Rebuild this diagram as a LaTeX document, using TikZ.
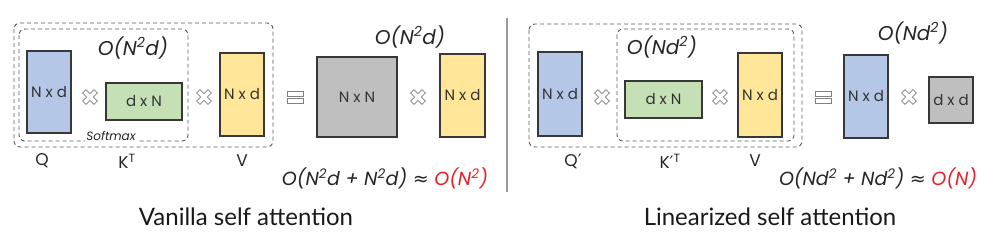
\documentclass[tikz,border=0pt]{standalone}
\usepackage{fontspec}
\setmainfont{Poppins}
\newfontfamily\titlef{Lato}
\newfontfamily\symf{DejaVu Sans}
\definecolor{qblue}{HTML}{B4C7E7}
\definecolor{kgreen}{HTML}{C5E0B4}
\definecolor{vyellow}{HTML}{FFE699}
\definecolor{mgray}{HTML}{BFBFBF}
\definecolor{ored}{HTML}{E8202A}
\newcommand{\prm}{{\symf ′}}
\tikzset{
  matbox/.style={draw=black!78, line width=1.1pt, inner sep=0pt, text=black!80,
    font=\fontsize{15}{17}\selectfont},
  dbox/.style={draw=black!65, line width=0.9pt, dash pattern=on 4pt off 3pt, rounded corners=6pt},
  cplx/.style={font=\fontsize{20}{22}\selectfont\itshape, text=black!85, inner sep=0pt},
  vlabel/.style={font=\fontsize{17}{19}\selectfont, text=black!85, inner sep=0pt},
  form/.style={font=\fontsize{19}{21}\selectfont\itshape, text=black!85, inner sep=0pt},
  ttl/.style={font=\titlef\fontsize{24}{26}\selectfont, text=black!90, inner sep=0pt},
  xop/.pic={\draw[black!50, fill=white, line width=0.7pt, rotate=45]
      (-8,-2.4) -- (-2.4,-2.4) -- (-2.4,-8) -- (2.4,-8) -- (2.4,-2.4) -- (8,-2.4)
      -- (8,2.4) -- (2.4,2.4) -- (2.4,8) -- (-2.4,8) -- (-2.4,2.4) -- (-8,2.4) -- cycle;},
  eqop/.pic={\draw[black!50, fill=white, line width=0.7pt]
      (-8,-6) rectangle (8,-1) (-8,1) rectangle (8,6);}
}
\begin{document}
\begin{tikzpicture}[x=1pt,y=-1pt]
\useasboundingbox (0,0) rectangle (998,242);
% separator
\draw[black!40, line width=1.3pt] (507,18) -- (507,192);
% ---- vanilla ----
\draw[dbox] (14,23) rectangle (273,147);
\draw[dbox] (19,29) rectangle (188,141);
\node[matbox, fill=qblue, minimum width=44pt, minimum height=82pt] (q1) at (49,92) {N x d};
\node[matbox, fill=kgreen, minimum width=76pt, minimum height=37pt] (k1) at (144,101.5) {d x N};
\node[matbox, fill=vyellow, minimum width=44pt, minimum height=83pt] (v1) at (242,94.5) {N x d};
\node[matbox, fill=mgray, minimum width=80pt, minimum height=80pt] (nn) at (357,97) {N x N};
\node[matbox, fill=vyellow, minimum width=45pt, minimum height=83pt] (v2) at (462.5,95.5) {N x d};
\pic at (90,97) {xop};
\pic at (204,97) {xop};
\pic at (295,97) {eqop};
\pic at (418,97) {xop};
\node[cplx] (c1) at (133,48) {O(N\textsuperscript{2}d)};
\node[font=\fontsize{12}{14}\selectfont\itshape, text=black!85, fill=white, inner sep=1pt] (sm) at (111,136) {Softmax};
\node[vlabel] (lq1) at (42,161) {Q};
\node[vlabel] (lk1) at (127,161) {K\textsuperscript{T}};
\node[vlabel] (lv1) at (242,161) {V};
\node[cplx] (c2) at (410,37) {O(N\textsuperscript{2}d)};
\node[form] (f1) at (385,178) {O(N\textsuperscript{2}d + N\textsuperscript{2}d) {\upshape\symf ≈} \textcolor{ored}{O(N\textsuperscript{2})}};
\node[ttl] (t1) at (246,217) {Vanilla self attention};
% ---- linearized ----
\draw[dbox] (529,24) rectangle (802,147);
\draw[dbox] (617,29) rectangle (794,141);
\node[matbox, fill=qblue, minimum width=44pt, minimum height=84pt] (q2) at (560,94) {N x d};
\node[matbox, fill=kgreen, minimum width=77pt, minimum height=37pt] (k2) at (663.5,99.5) {d x N};
\node[matbox, fill=vyellow, minimum width=44pt, minimum height=84pt] (v3) at (760,95) {N x d};
\node[matbox, fill=qblue, minimum width=44pt, minimum height=83pt] (b4) at (866,96.5) {N x d};
\node[matbox, fill=mgray, minimum width=44pt, minimum height=46pt] (dd) at (951,100) {d x d};
\pic at (602,97) {xop};
\pic at (720,97) {xop};
\pic at (823,97) {eqop};
\pic at (909,97) {xop};
\node[cplx] (c3) at (662,47) {O(Nd\textsuperscript{2})};
\node[cplx] (c4) at (913,33) {O(Nd\textsuperscript{2})};
\node[vlabel] (lq2) at (573,161) {Q\prm};
\node[vlabel] (lk2) at (670,161) {K\prm\textsuperscript{T}};
\node[vlabel] (lv2) at (755,161) {V};
\node[form] (f2) at (878,178) {O(Nd\textsuperscript{2} + Nd\textsuperscript{2}) {\upshape\symf ≈} \textcolor{ored}{O(N)}};
\node[ttl] (t2) at (770,217) {Linearized self attention};
\end{tikzpicture}
\end{document}
